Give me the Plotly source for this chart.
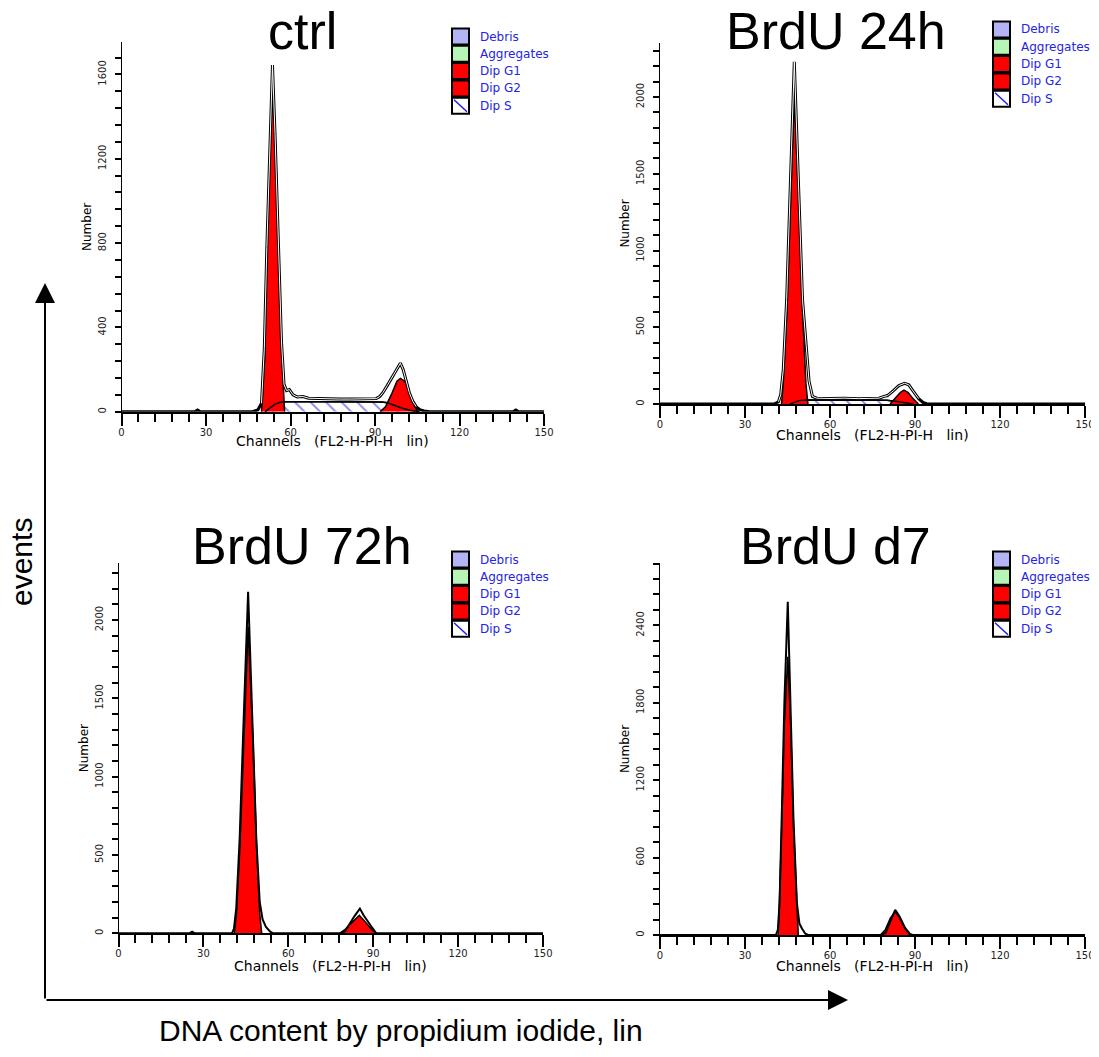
import plotly.graph_objects as go
import numpy as np

W, H = 1099, 1057
OFF = 8                          # page body margin of the html page
FW, FH = W - OFF, H - 2 * OFF    # figure size (no scrollbars)

# ---------------- values ----------------
titles = ["ctrl", "BrdU 24h", "BrdU 72h", "BrdU d7"]
legend_labels = ["Debris", "Aggregates", "Dip G1", "Dip G2", "Dip S"]
legend_colors = ["#b3b3f5", "#b6f5b6", "#ff0000", "#ff0000", "white"]
x_tick_vals = [0, 30, 60, 90, 120, 150]
x_minor_step = 6

# ctrl
ctrl_data_ch = [0, 26, 27, 28, 46.4, 48.4, 49.7, 50.7, 51.6, 52.6, 53.6, 54.5, 55.6, 56.8,
                57.7, 58.6, 59.6, 60.9, 62.4, 64.4, 66.4, 69.4, 73.4, 77.4,
                81.4, 85.4, 88.4, 90.4, 91.7, 92.8, 94.4, 95.7, 97.5, 99.0,
                100.0, 101.1, 102.2, 103.4, 104.6, 105.9, 107.4, 109.4, 139, 140, 141, 150]
ctrl_data_n = [0, 0, 8, 0, 0, 8, 40, 300, 780, 1260, 1645, 1320, 820, 330,
               130, 100, 105, 80, 70, 72, 64, 62, 60, 60,
               60, 62, 60, 62, 72, 90, 125, 155, 200, 230,
               200, 150, 90, 50, 24, 10, 4, 0, 0, 8, 0, 0]
ctrl_g1_ch = [49.7, 50.8, 51.6, 52.6, 53.7, 54.9, 55.8, 57.0, 57.9]
ctrl_g1_n = [0, 245, 720, 1194, 1573, 1194, 720, 245, 0]
ctrl_g2_ch = [91.8, 93.8, 96.0, 97.8, 99.0, 100.6, 102.4, 103.8, 105.3]
ctrl_g2_n = [0, 25, 87, 145, 158, 145, 87, 30, 0]
ctrl_s_ch = [51.0, 52.4, 54.4, 56.4, 58.4, 70, 85, 92.4, 94.4, 96.4, 99.4, 102.4, 105.8]
ctrl_s_n = [0, 15, 35, 45, 47, 47, 47, 46, 42, 32, 18, 7, 0]
ctrl_means = [53.6, 98.5]

# BrdU 24h
h24_data_ch = [0, 40.3, 41.8, 42.6, 43.5, 44.7, 45.9, 47.4, 49.0, 50.3, 51.6, 52.6, 53.8, 55.3,
               60, 65, 70, 75, 77.3, 78.8, 80.3, 82.3, 84.3, 86.3, 87.8, 89.3, 91.3, 92.8, 94.3, 150]
h24_data_n = [0, 0, 15, 60, 220, 680, 1370, 2230, 1370, 680, 380, 150, 50, 38,
              36, 38, 35, 36, 38, 48, 55, 85, 120, 135, 125, 85, 35, 10, 0, 0]
h24_g1_ch = [42.9, 43.5, 44.7, 45.9, 47.4, 49.2, 50.4, 51.5, 52.2]
h24_g1_n = [0, 135, 569, 1220, 2000, 1220, 569, 135, 0]
h24_g2_ch = [81.2, 83.2, 84.8, 86.1, 87.6, 89.3, 91.2]
h24_g2_n = [0, 40, 75, 91, 75, 35, 0]
h24_s_ch = [46.0, 47.5, 49, 51, 60, 75, 80, 83, 86, 89.4]
h24_s_n = [0, 12, 22, 26, 26, 26, 25, 18, 8, 0]
h24_means = [47.7, 86.5]

# BrdU 72h
h72_data_ch = [0, 25, 26, 27, 40.1, 40.8, 41.6, 42.8, 44.0, 45.8, 47.5, 48.7, 49.9, 50.9,
               52.1, 53.6, 54.6, 78.6, 80.1, 81.6, 83.4, 85.3, 86.6, 89.1, 91.1, 150]
h72_data_n = [0, 0, 10, 0, 0, 30, 160, 600, 1250, 2181, 1250, 600, 200, 90,
              40, 10, 0, 0, 15, 60, 110, 158, 115, 50, 0, 0]
h72_g1_ch = [40.9, 41.7, 42.9, 44.1, 45.8, 47.6, 48.8, 49.9, 50.6]
h72_g1_n = [0, 126, 551, 1190, 1957, 1190, 551, 126, 0]
h72_g2_ch = [78.1, 80.1, 82.1, 85.1, 87.6, 89.6, 91.1]
h72_g2_n = [0, 25, 62, 115, 65, 22, 0]
h72_s_ch = [0, 150]
h72_s_n = [0, 0]
h72_means = [45.9, 84.9]

# BrdU d7
d7_data_ch = [0, 40.9, 41.6, 42.2, 43.0, 43.9, 45.1, 46.2, 47.1, 48.3, 49.2, 50.1, 51.3, 52.3,
              78.0, 79.6, 81.2, 83.0, 84.5, 86.5, 88.2, 89.2, 150]
d7_data_n = [0, 0, 40, 250, 950, 1800, 2584, 1750, 900, 250, 90, 50, 10, 0,
             0, 15, 100, 195, 145, 55, 8, 0, 0]
d7_g1_ch = [41.7, 42.1, 43.0, 43.9, 45.1, 46.1, 47.1, 48.3, 48.8]
d7_g1_n = [0, 219, 866, 1641, 2157, 1641, 866, 219, 0]
d7_g2_ch = [77.8, 79.5, 81.3, 82.95, 84.4, 86.2, 88.2]
d7_g2_n = [0, 40, 130, 181, 140, 60, 0]
d7_s_ch = [0, 150]
d7_s_n = [0, 0]
d7_means = [45.3, 83.2]

y_max = [1754, 2352, 2364, 2884]
y_tick_step = [400, 500, 500, 600]
y_minor_step = [80, 100, 100, 120]

# ---------------- layout geometry (page pixels) ----------------
boxes = [(121.5, 544, 411.7, 42), (660, 1085, 404, 43),
         (118.5, 543, 933.3, 563), (660, 1085, 935, 563)]
legend_pos = [(452, 28.5), (993, 21.5), (452, 551.5), (993, 551.5)]
title_pos = [(302.5, 31), (835.5, 31), (302, 546), (835, 546)]
xtitle_y = [441, 435, 966, 966]
double_line = [True, True, False, False]


def px(x):
    return (x - OFF) / FW


def py(y):
    return 1 - (y - OFF) / FH


panels = [
    dict(data=(ctrl_data_ch, ctrl_data_n), g1=(ctrl_g1_ch, ctrl_g1_n), g2=(ctrl_g2_ch, ctrl_g2_n),
         s=(ctrl_s_ch, ctrl_s_n), means=ctrl_means),
    dict(data=(h24_data_ch, h24_data_n), g1=(h24_g1_ch, h24_g1_n), g2=(h24_g2_ch, h24_g2_n),
         s=(h24_s_ch, h24_s_n), means=h24_means),
    dict(data=(h72_data_ch, h72_data_n), g1=(h72_g1_ch, h72_g1_n), g2=(h72_g2_ch, h72_g2_n),
         s=(h72_s_ch, h72_s_n), means=h72_means),
    dict(data=(d7_data_ch, d7_data_n), g1=(d7_g1_ch, d7_g1_n), g2=(d7_g2_ch, d7_g2_n),
         s=(d7_s_ch, d7_s_n), means=d7_means),
]

fig = go.Figure()
shapes = []
annotations = []
layout_axes = {}

TICK_FONT = dict(family="DejaVu Sans", size=10, color="#222")
NB = "\u00a0"
x_title = "Channels" + NB * 3 + "(FL2-H-PI-H" + NB * 3 + "lin)"

for i, p in enumerate(panels):
    k = "" if i == 0 else str(i + 1)
    xa, ya = "x" + k, "y" + k
    x0, x1, yb, yt = boxes[i]
    ppu = (yb - yt) / y_max[i]

    s_ch, s_n = p["s"]
    if max(s_n) > 0:
        fig.add_trace(go.Scatter(
            x=s_ch, y=s_n, xaxis=xa, yaxis=ya, mode="lines", fill="tozeroy",
            fillcolor="white",
            fillpattern=dict(shape="\\", fgcolor="#0000d0", bgcolor="white", size=11, solidity=0.15),
            line=dict(color="black", width=1.5), showlegend=False, hoverinfo="skip"))
    for key in ("g1", "g2"):
        cx, cn = p[key]
        fig.add_trace(go.Scatter(
            x=cx, y=cn, xaxis=xa, yaxis=ya, mode="lines", fill="tozeroy",
            fillcolor="#ff0000", line=dict(color="black", width=1.5),
            showlegend=False, hoverinfo="skip"))
    if max(s_n) > 0:
        fig.add_trace(go.Scatter(
            x=s_ch, y=s_n, xaxis=xa, yaxis=ya, mode="lines",
            line=dict(color="black", width=1.5), showlegend=False, hoverinfo="skip"))
    dx, dn = p["data"]
    fig.add_trace(go.Scatter(
        x=dx, y=dn, xaxis=xa, yaxis=ya, mode="lines",
        line=dict(color="black", width=3 if double_line[i] else 2),
        showlegend=False, hoverinfo="skip"))
    if double_line[i]:
        dn_arr = np.array(dn, dtype=float)
        white = np.where(dn_arr > 12, dn_arr, np.nan)
        fig.add_trace(go.Scatter(
            x=dx, y=white, xaxis=xa, yaxis=ya, mode="lines", connectgaps=False,
            line=dict(color="white", width=1), showlegend=False, hoverinfo="skip"))
    # peak-mean markers under the axis
    fig.add_trace(go.Scatter(
        x=p["means"], y=[-7.5 / ppu] * 2, xaxis=xa, yaxis=ya, mode="markers",
        marker=dict(symbol="triangle-up", size=13, color="black"),
        cliponaxis=False, showlegend=False, hoverinfo="skip"))

    layout_axes["xaxis" + k] = dict(
        domain=[px(x0), px(x1)], range=[0, 150], anchor=ya, automargin=False,
        showline=True, linecolor="black", linewidth=2, showgrid=False, zeroline=False,
        ticks="outside", ticklen=12, tickwidth=1.5, tickcolor="black",
        tickmode="array", tickvals=x_tick_vals, ticktext=[str(v) for v in x_tick_vals],
        tickfont=TICK_FONT, ticklabelstandoff=-2,
        minor=dict(ticks="outside", tick0=0, dtick=x_minor_step, ticklen=8, tickwidth=1.5,
                   tickcolor="black", showgrid=False))
    layout_axes["yaxis" + k] = dict(
        domain=[py(yb), py(yt)], range=[0, y_max[i]], anchor=xa, automargin=False,
        showline=True, linecolor="black", linewidth=1, showgrid=False, zeroline=False,
        ticks="outside", ticklen=6, tickwidth=1.5, tickcolor="black",
        tick0=0, dtick=y_tick_step[i], tickangle=-90,
        tickfont=dict(family="DejaVu Sans", size=10, color="#222"),
        ticklabelstandoff=5,
        minor=dict(ticks="outside", dtick=y_minor_step[i], ticklen=6, tickwidth=1.5,
                   tickcolor="black", showgrid=False),
        title=dict(text="Number", font=dict(family="DejaVu Sans", size=12, color="black"),
                   standoff=2))

    # x axis title
    annotations.append(dict(text=x_title, x=px((x0 + x1) / 2), y=py(xtitle_y[i]),
                            xref="paper", yref="paper", xanchor="center", yanchor="middle",
                            showarrow=False,
                            font=dict(family="DejaVu Sans", size=14, color="black")))

    # panel title
    tx, ty = title_pos[i]
    annotations.append(dict(text=titles[i], x=px(tx), y=py(ty), xref="paper", yref="paper",
                            xanchor="center", yanchor="middle", showarrow=False,
                            font=dict(family="Liberation Sans", size=52, color="black")))

    # legend block
    lx, ly = legend_pos[i]
    pitch, bw, bh = 17.3, 17, 16
    for j, lab in enumerate(legend_labels):
        top = ly + j * pitch
        shapes.append(dict(type="rect", xref="paper", yref="paper",
                           x0=px(lx), x1=px(lx + bw), y0=py(top + bh), y1=py(top),
                           fillcolor=legend_colors[j], line=dict(color="black", width=2)))
        if lab == "Dip S":
            shapes.append(dict(type="line", xref="paper", yref="paper",
                               x0=px(lx + 2), x1=px(lx + bw - 2),
                               y0=py(top + 2), y1=py(top + bh - 2),
                               line=dict(color="#2020e0", width=1.5)))
        annotations.append(dict(text=lab, x=px(lx + bw + 9), y=py(top + bh / 2),
                                xref="paper", yref="paper", xanchor="left", yanchor="middle",
                                showarrow=False,
                                font=dict(family="DejaVu Sans", size=12, color="#2424e6")))

# big axes arrows
annotations.append(dict(x=px(45), y=py(283), xref="paper", yref="paper", ax=0, ay=717,
                        text="", showarrow=True, arrowhead=2, arrowsize=2, arrowwidth=2,
                        arrowcolor="black", standoff=0, startstandoff=0))
annotations.append(dict(x=px(848), y=py(1000), xref="paper", yref="paper", ax=-803, ay=0,
                        text="", showarrow=True, arrowhead=2, arrowsize=2, arrowwidth=2,
                        arrowcolor="black", standoff=0, startstandoff=0))
annotations.append(dict(text="events", x=px(21), y=py(562), xref="paper", yref="paper",
                        textangle=-90, showarrow=False, xanchor="center", yanchor="middle",
                        font=dict(family="Liberation Sans", size=30, color="black")))
annotations.append(dict(text="DNA content by propidium iodide, lin", x=px(401), y=py(1030),
                        xref="paper", yref="paper", showarrow=False, xanchor="center",
                        yanchor="middle",
                        font=dict(family="Liberation Sans", size=30, color="black")))

fig.update_layout(width=FW, height=FH, margin=dict(l=0, r=0, t=0, b=0),
                  paper_bgcolor="white", plot_bgcolor="white", showlegend=False,
                  shapes=shapes, annotations=annotations, **layout_axes)

fig.write_html("out.html")
